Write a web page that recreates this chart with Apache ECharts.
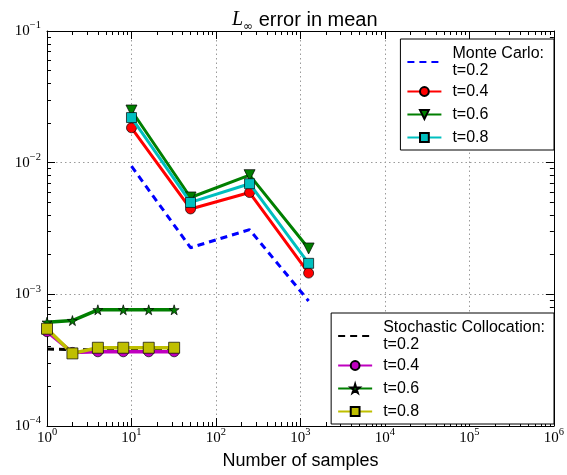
<!DOCTYPE html>
<html><head><meta charset="utf-8">
<script src="https://cdn.jsdelivr.net/npm/echarts@6/dist/echarts.min.js"></script>
<style>html,body{margin:0;padding:0;background:#fff}#c{width:567px;height:475px}</style>
</head><body><div id="c"></div>
<script>
// ---- data ----
const mcSamples = [10, 50, 250, 1250];
const mcT02 = [0.0094, 0.00226, 0.0031, 0.00089];
const mcT04 = [0.0184, 0.00445, 0.00593, 0.00145];
const mcT06 = [0.0249, 0.00544, 0.00804, 0.00223];
const mcT08 = [0.0220, 0.00499, 0.00692, 0.00172];
const scSamples = [1, 2, 4, 8, 16, 32];
const scT02 = [0.000384, 0.00038, 0.00038, 0.00038, 0.00038, 0.00038];
const scT04 = [0.00052, 0.000362, 0.000366, 0.000366, 0.000366, 0.000366];
const scT06 = [0.000614, 0.000632, 0.000763, 0.000763, 0.000763, 0.000763];
const scT08 = [0.000548, 0.000356, 0.000393, 0.000393, 0.000393, 0.000393];
const xTicks = [1, 10, 100, 1000, 10000, 100000, 1000000];
const yTicks = [0.0001, 0.001, 0.01, 0.1];
const legendText = {
  MC02: 'Monte Carlo:\nt=0.2', MC04: 't=0.4', MC06: 't=0.6', MC08: 't=0.8',
  SC02: 'Stochastic Collocation:\nt=0.2', SC04: 't=0.4', SC06: 't=0.6', SC08: 't=0.8'
};

function minorOf(ticks) {
  const out = [];
  for (let i = 0; i < ticks.length - 1; i++)
    for (let k = 2; k <= 9; k++) out.push(ticks[i] * k);
  return out;
}
const pairs = (xs, ys) => xs.map((x, i) => [x, ys[i]]);
function powLabel(v) {
  const e = Math.round(Math.log10(v));
  return '{b|10}{s|' + (e < 0 ? '\u2212' + (-e) : e) + '}';
}
const rich = {
  b: { fontFamily: 'Liberation Serif', fontSize: 15, lineHeight: 22, color: '#000', verticalAlign: 'middle' },
  s: { fontFamily: 'Liberation Serif', fontSize: 10.5, lineHeight: 10, color: '#000', verticalAlign: 'top' }
};

const chart = echarts.init(document.getElementById('c'), null, { renderer: 'canvas' });
const gridBox = { left: 47, right: 6, top: 31, bottom: 43 };

function xAx(pos, ticks, major, labels) {
  return {
    type: 'log', logBase: 10, min: 1, max: 1e6, position: pos, splitNumber: 6,
    axisLine: { show: major, lineStyle: { color: '#000', width: 1 } },
    axisTick: { show: true, inside: true, length: major ? 8 : 4, customValues: ticks, lineStyle: { color: '#000', width: 1 } },
    axisLabel: labels ? { show: true, customValues: ticks, formatter: powLabel, rich: rich, margin: 1 } : { show: false },
    splitLine: (labels) ? { show: true, lineStyle: { color: '#9a9a9a', type: [1.5, 3], width: 1 } } : { show: false },
    name: labels ? 'Number of samples' : '', nameLocation: 'middle', nameGap: 26,
    nameTextStyle: { fontFamily: 'Liberation Sans', fontSize: 18, color: '#000' }
  };
}
function yAx(pos, ticks, major, labels) {
  return {
    type: 'log', logBase: 10, min: 1e-4, max: 1e-1, position: pos,
    axisLine: { show: major, lineStyle: { color: '#000', width: 1 } },
    axisTick: { show: true, inside: true, length: major ? 8 : 4, customValues: ticks, lineStyle: { color: '#000', width: 1 } },
    axisLabel: labels ? { show: true, customValues: ticks, formatter: powLabel, rich: rich, margin: 6 } : { show: false },
    splitLine: labels ? { show: true, lineStyle: { color: '#9a9a9a', type: [1.5, 3], width: 1 } } : { show: false }
  };
}
const xMinor = minorOf(xTicks), yMinor = minorOf(yTicks);

function lineSeries(name, data, color, symbol, size, lw, dashed, z) {
  return {
    name: name, type: 'line', data: data, xAxisIndex: 0, yAxisIndex: 0,
    symbol: symbol, symbolSize: size, showSymbol: symbol !== 'none',
    lineStyle: { color: color, width: lw, type: dashed ? [7, 5] : 'solid' },
    itemStyle: { color: color, borderColor: '#000', borderWidth: 0.7 },
    z: z, animation: false, clip: true
  };
}
const triDown = 'path://M0,0 L10,0 L5,9 Z';
const star = 'path://M50,0 L61,35 L98,35 L68,57 L79,91 L50,70 L21,91 L32,57 L2,35 L39,35 Z';

const legendBase = {
  orient: 'vertical', right: 13, itemWidth: 34, itemHeight: 11, itemGap: 2,
  backgroundColor: '#fff', borderColor: '#000', borderWidth: 1, borderRadius: 0,
  selectedMode: false, formatter: n => legendText[n],
  textStyle: { fontFamily: 'Liberation Sans', fontSize: 16, color: '#000', lineHeight: 21, padding: [0, 0, 0, 6] }
};
const hiddenSym = { opacity: 0, borderWidth: 0 };

chart.setOption({
  animation: false,
  title: {
    text: '{L|L}{i|\u221e}{t| error in mean}', left: 227, top: 2,
    textStyle: {
      fontWeight: 'normal',
      rich: {
        L: { fontFamily: 'Liberation Serif', fontStyle: 'italic', fontWeight: 'normal', fontSize: 20, lineHeight: 26, color: '#000', verticalAlign: 'middle' },
        i: { fontFamily: 'DejaVu Sans', fontWeight: 'normal', fontSize: 12, lineHeight: 17, color: '#000', verticalAlign: 'bottom' },
        t: { fontFamily: 'Liberation Sans', fontWeight: 'normal', fontSize: 20, lineHeight: 26, color: '#000', verticalAlign: 'middle' }
      }
    }
  },
  grid: Object.assign({ containLabel: false }, gridBox),
  xAxis: [xAx('bottom', xTicks, true, true), xAx('bottom', xMinor, false, false), xAx('top', xTicks, true, false), xAx('top', xMinor, false, false)],
  yAxis: [yAx('left', yTicks, true, true), yAx('left', yMinor, false, false), yAx('right', yTicks, true, false), yAx('right', yMinor, false, false)],
  legend: [
    Object.assign({}, legendBase, {
      top: 39, padding: [6, 10, 2, 6],
      data: [{ name: 'MC02', textStyle: { lineHeight: 17 }, itemStyle: hiddenSym }, 'MC04', 'MC06', 'MC08']
    }),
    Object.assign({}, legendBase, {
      bottom: 51, padding: [6, 9, 2, 6],
      data: [{ name: 'SC02', textStyle: { lineHeight: 17 }, itemStyle: hiddenSym }, 'SC04', 'SC06', 'SC08']
    })
  ],
  series: [
    lineSeries('MC02', pairs(mcSamples, mcT02), '#0000ff', 'none', 0, 3, true, 2),
    lineSeries('MC04', pairs(mcSamples, mcT04), '#ff0000', 'circle', 10, 3, false, 3),
    lineSeries('MC06', pairs(mcSamples, mcT06), '#007f00', triDown, 11, 3, false, 4),
    lineSeries('MC08', pairs(mcSamples, mcT08), '#00bfbf', 'rect', 10, 3, false, 5),
    lineSeries('SC02', pairs(scSamples, scT02), '#000000', 'none', 0, 3, true, 2),
    lineSeries('SC04', pairs(scSamples, scT04), '#bf00bf', 'circle', 10, 3.5, false, 3),
    lineSeries('SC06', pairs(scSamples, scT06), '#007f00', star, 10, 3.5, false, 4),
    lineSeries('SC08', pairs(scSamples, scT08), '#bfbf00', 'rect', 11, 3.5, false, 5)
  ]
});
</script>
</body></html>
